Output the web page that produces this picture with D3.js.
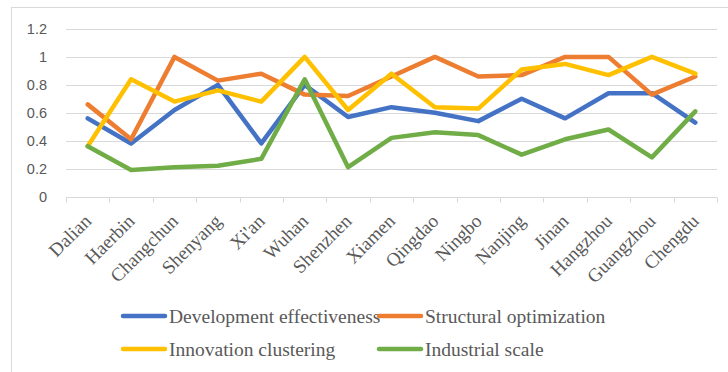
<!DOCTYPE html>
<html><head><meta charset="utf-8">
<script src="https://cdn.jsdelivr.net/npm/d3@7"></script>
<style>body{margin:0;background:#fff}svg{display:block}</style>
</head><body><svg id="c" width="728" height="372"></svg>
<script>
const cities = ["Dalian","Haerbin","Changchun","Shenyang","Xi'an","Wuhan","Shenzhen","Xiamen","Qingdao","Ningbo","Nanjing","Jinan","Hangzhou","Guangzhou","Chengdu"];
const development = [0.56,0.38,0.62,0.80,0.38,0.80,0.57,0.64,0.60,0.54,0.70,0.56,0.74,0.74,0.53];
const structural  = [0.66,0.41,1.00,0.83,0.88,0.73,0.72,0.86,1.00,0.86,0.87,1.00,1.00,0.73,0.86];
const innovation  = [0.36,0.84,0.68,0.76,0.68,1.00,0.62,0.88,0.64,0.63,0.91,0.95,0.87,1.00,0.88];
const industrial  = [0.36,0.19,0.21,0.22,0.27,0.84,0.21,0.42,0.46,0.44,0.30,0.41,0.48,0.28,0.61];
const seriesNames = ["Development effectiveness","Structural optimization","Innovation clustering","Industrial scale"];
const seriesColors = ["#4472C4","#ED7D31","#FFC000","#70AD47"];
const yTicks = [0,0.2,0.4,0.6,0.8,1,1.2];

const series = [development, structural, innovation, industrial];
const svg = d3.select("#c");
svg.append("rect").attr("x",11.5).attr("y",7.5).attr("width",730).attr("height",380)
  .attr("fill","none").attr("stroke","#d9d9d9");

const x = d3.scaleBand().domain(cities).range([66,717]);
const y = d3.scaleLinear().domain([0,1.2]).range([196.5,29]);

const grid = svg.append("g");
grid.selectAll("line").data(yTicks.filter(t=>t>0)).join("line")
  .attr("x1",66).attr("x2",717).attr("y1",d=>Math.round(y(d))+0.5).attr("y2",d=>Math.round(y(d))+0.5)
  .attr("stroke","#d9d9d9").attr("stroke-width",1);

const yAxis = svg.append("g").attr("transform","translate(52,0)")
  .call(d3.axisLeft(y).tickValues(yTicks).tickSize(0).tickFormat(d=>d3.format("")(d)));
yAxis.select(".domain").remove();
yAxis.selectAll("text").attr("font-family","Liberation Sans, Arial, sans-serif").attr("font-size",14.5).attr("fill","#595959").attr("x",-5);

const xAxisG = svg.append("g").attr("transform",`translate(0,${Math.round(y(0))+0.5})`);
xAxisG.append("line").attr("x1",66).attr("x2",717).attr("stroke","#d9d9d9");
const bounds = cities.map(c=>x(c)).concat([x.range()[1]]);
xAxisG.selectAll("line.tk").data(bounds).join("line").attr("class","tk")
  .attr("x1",d=>Math.round(d)+0.5).attr("x2",d=>Math.round(d)+0.5).attr("y1",0).attr("y2",5).attr("stroke","#d9d9d9");
xAxisG.selectAll("text").data(cities).join("text")
  .attr("transform",d=>`translate(${x(d)+x.bandwidth()/2},${20}) rotate(-45)`)
  .attr("text-anchor","end").attr("dy","0.35em")
  .attr("font-family","Liberation Serif, Times New Roman, serif").attr("font-size",19).attr("fill","#595959")
  .text(d=>d);

const line = d3.line().x((d,i)=>x(cities[i])+x.bandwidth()/2).y(d=>y(d));
svg.append("g").selectAll("path").data(series).join("path")
  .attr("d",line).attr("fill","none").attr("stroke",(d,i)=>seriesColors[i])
  .attr("stroke-width",4.5).attr("stroke-linejoin","round").attr("stroke-linecap","round");

const legendPos = [[123,316],[379,316],[123,349],[379,349]];
const lg = svg.append("g").selectAll("g").data(seriesNames).join("g")
  .attr("transform",(d,i)=>`translate(${legendPos[i][0]},${legendPos[i][1]})`);
lg.append("line").attr("x1",0).attr("x2",42).attr("stroke",(d,i)=>seriesColors[i]).attr("stroke-width",4.5).attr("stroke-linecap","round");
lg.append("text").attr("x",46).attr("dy","0.35em")
  .attr("font-family","Liberation Serif, Times New Roman, serif").attr("font-size",19.5).attr("fill","#595959")
  .text(d=>d);
</script></body></html>
